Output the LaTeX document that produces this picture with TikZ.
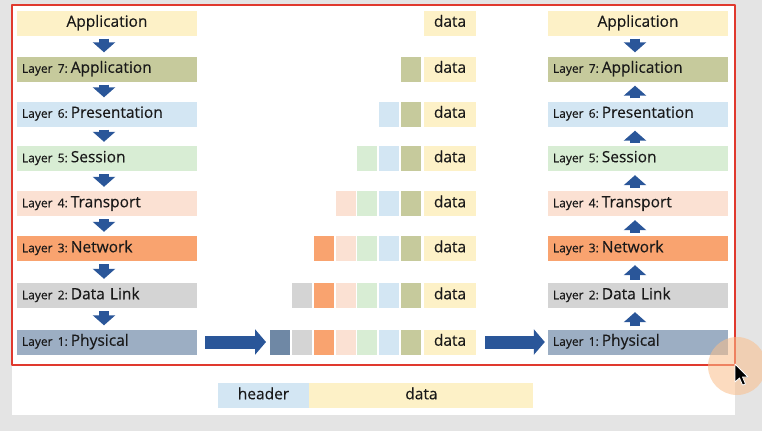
\documentclass[tikz,border=0pt]{standalone}
\usepackage{fontspec}
\setmainfont{Open Sans}[FakeBold=0.35]
\usetikzlibrary{arrows.meta}
\definecolor{fdf1c7}{rgb}{0.992,0.945,0.78}
\definecolor{c7}{rgb}{0.776,0.792,0.612}
\definecolor{c6}{rgb}{0.827,0.902,0.953}
\definecolor{c5}{rgb}{0.847,0.929,0.831}
\definecolor{c4}{rgb}{0.984,0.882,0.827}
\definecolor{c3}{rgb}{0.976,0.639,0.435}
\definecolor{c2}{rgb}{0.831,0.831,0.831}
\definecolor{c1}{rgb}{0.435,0.533,0.647}
\definecolor{9caec3}{rgb}{0.612,0.682,0.765}
\definecolor{2b579a}{rgb}{0.165,0.337,0.6}
\definecolor{e0392e}{rgb}{0.878,0.224,0.18}
\definecolor{e4e4e4}{rgb}{0.894,0.894,0.894}
\definecolor{tttttt}{rgb}{0.1,0.1,0.1}
\definecolor{fbbf8c}{rgb}{0.98,0.75,0.55}
\newcommand{\layertag}[1]{{\fontsize{12}{14}\selectfont Layer #1:}\hspace{3pt}}
\begin{document}
\begin{tikzpicture}[x=1pt,y=-1pt,line join=round,
  lay/.style={minimum height=25pt,text width=170pt,inner xsep=5pt,inner ysep=0pt,align=left,text height=11pt,text depth=3.5pt,font=\fontsize{15.5}{17}\selectfont,text=tttttt},
  top/.style={lay,align=center,fill=fdf1c7},
  dbox/.style={minimum height=25pt,minimum width=52pt,inner sep=0pt,text height=11pt,text depth=3.5pt,font=\fontsize{15.5}{17}\selectfont,text=tttttt,fill=fdf1c7},
  hbox/.style={minimum height=25pt,minimum width=20pt,inner sep=0pt},
  dn/.style={line cap=butt,color=2b579a,line width=10pt,-{Triangle[width=22pt,length=10pt]},shorten <=3pt,shorten >=4pt},
  big/.style={line cap=butt,color=2b579a,line width=13pt,-{Triangle[width=25pt,length=11pt]}},
]
\useasboundingbox (0,0) rectangle (762,431);
\fill[e4e4e4] (0,0) rectangle (762,431);
\fill[white] (12,4) rectangle (735,415);
%sender
\node[top] (app) at (107,23) {Application};
\node[lay,fill=c7] (l7) at (107,69) {\layertag{7}Application};
\node[lay,fill=c6] (l6) at (107,114) {\layertag{6}Presentation};
\node[lay,fill=c5] (l5) at (107,158.5) {\layertag{5}Session};
\node[lay,fill=c4] (l4) at (107,203.5) {\layertag{4}Transport};
\node[lay,fill=c3] (l3) at (107,248.5) {\layertag{3}Network};
\node[lay,fill=c2] (l2) at (107,295.5) {\layertag{2}Data Link};
\node[lay,fill=9caec3] (l1) at (107,342) {\layertag{1}Physical};
\draw[dn] ([xshift=-3pt]app.south) -- ([xshift=-3pt]l7.north);
\draw[dn] ([xshift=-3pt]l7.south) -- ([xshift=-3pt]l6.north);
\draw[dn] ([xshift=-3pt]l6.south) -- ([xshift=-3pt]l5.north);
\draw[dn] ([xshift=-3pt]l5.south) -- ([xshift=-3pt]l4.north);
\draw[dn] ([xshift=-3pt]l4.south) -- ([xshift=-3pt]l3.north);
\draw[dn] ([xshift=-3pt]l3.south) -- ([xshift=-3pt]l2.north);
\draw[dn] ([xshift=-3pt]l2.south) -- ([xshift=-3pt]l1.north);
%receiver
\node[top] (rapp) at (638,23) {Application};
\node[lay,fill=c7] (r7) at (638,69) {\layertag{7}Application};
\node[lay,fill=c6] (r6) at (638,114) {\layertag{6}Presentation};
\node[lay,fill=c5] (r5) at (638,158.5) {\layertag{5}Session};
\node[lay,fill=c4] (r4) at (638,203.5) {\layertag{4}Transport};
\node[lay,fill=c3] (r3) at (638,248.5) {\layertag{3}Network};
\node[lay,fill=c2] (r2) at (638,295.5) {\layertag{2}Data Link};
\node[lay,fill=9caec3] (r1) at (638,342) {\layertag{1}Physical};
\draw[dn] ([xshift=-3pt]rapp.south) -- ([xshift=-3pt]r7.north);
\draw[dn] ([xshift=-3pt]r6.north) -- ([xshift=-3pt]r7.south);
\draw[dn] ([xshift=-3pt]r5.north) -- ([xshift=-3pt]r6.south);
\draw[dn] ([xshift=-3pt]r4.north) -- ([xshift=-3pt]r5.south);
\draw[dn] ([xshift=-3pt]r3.north) -- ([xshift=-3pt]r4.south);
\draw[dn] ([xshift=-3pt]r2.north) -- ([xshift=-3pt]r3.south);
\draw[dn] ([xshift=-3pt]r1.north) -- ([xshift=-3pt]r2.south);
%packets
\node[dbox] (d0) at (450,23) {data};
\foreach \r/\yy in {7/69,6/114,5/158.5,4/203.5,3/248.5,2/295.5,1/342}{
  \node[dbox] (d\r) at (450,\yy) {data};
  \foreach \k in {\r,...,7}
    \node[hbox,fill=c\k] (h\r\k) at (411-21.8*7+21.8*\k,\yy) {};
}
\draw[big,shorten <=8pt,shorten >=4pt] (l1.east) -- (h11.west);
\draw[big,shorten <=9pt,shorten >=3pt] (d1.east) -- (r1.west);
%legend
\node[hbox,minimum width=91pt,fill=c6,text height=11pt,text depth=3.5pt,font=\fontsize{15.5}{17}\selectfont,text=tttttt] (hdr) at (263.5,395.5) {header};
\node[dbox,minimum width=224pt,anchor=west] (dat) at (hdr.east) {data};
\draw[e0392e,line width=2pt] (12,5) rectangle (735,365);
%pointer
\fill[fbbf8c,opacity=0.55] (737,366) circle (29pt);
\draw[white,fill=black,line width=0.8pt] (735,364) -- (735,382) -- (739.5,378) -- (742.5,385) -- (745.5,384) -- (742.5,377) -- (748,377) -- cycle;
\end{tikzpicture}
\end{document}
